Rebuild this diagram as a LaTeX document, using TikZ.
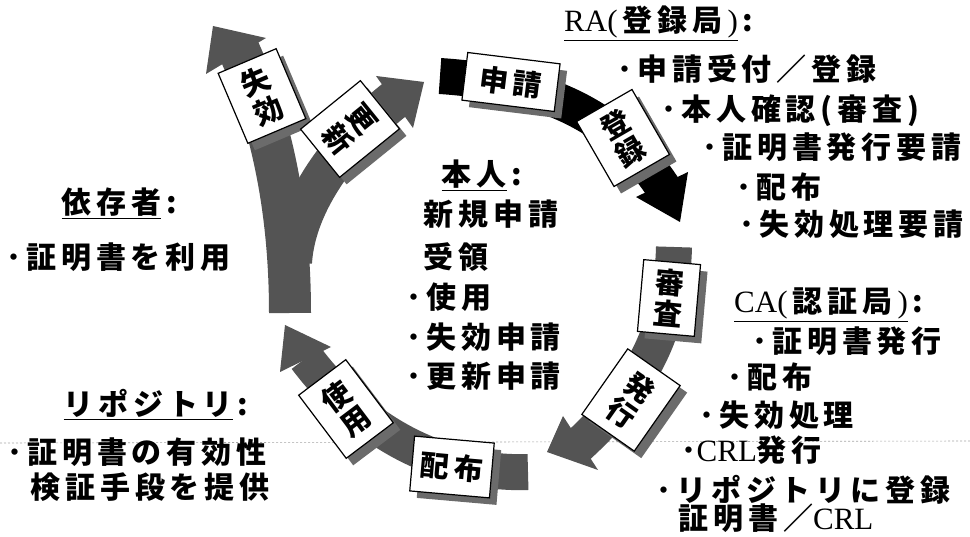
\documentclass[tikz,border=0pt]{standalone}
\usepackage{fontspec}
\setmainfont{Liberation Serif}
\newfontfamily\jp{Noto Sans CJK JP}[LetterSpace=16]
\newfontfamily\lat{Liberation Serif}
\newcommand\jpt{\jp\bfseries\fontsize{30}{34}\selectfont}
\newcommand\jpb{\jp\bfseries\fontsize{29}{31}\selectfont}
\newcommand\latt{\lat\mdseries\fontsize{31}{34}\selectfont}
\definecolor{arrowgray}{gray}{0.33}
\definecolor{shadowgray}{gray}{0.42}
\newcommand\labelbox[7]{%
  \node[sbox, rotate=#4, minimum width=#5pt, minimum height=#6pt] (#1s) at (#2+7,#3+7) {};
  \node[lbox, rotate=#4, minimum width=#5pt, minimum height=#6pt] (#1) at (#2,#3) {#7};
}
\begin{document}
\begin{tikzpicture}[x=1pt,y=-1pt,
  txt/.style={anchor=base west, inner sep=0pt, font=\jpt},
  lbox/.style={draw=black, line width=1.2pt, fill=white, inner sep=0pt, align=center, font=\jpb},
  sbox/.style={fill=shadowgray, inner sep=0pt},
  band/.style={draw=arrowgray, line width=36pt},
  headfill/.style={fill=arrowgray},
  faint/.style={draw=black!35, line width=0.6pt, dash pattern=on 2pt off 2pt}]
\useasboundingbox (0,0) rectangle (970,537);
\fill[white] (0,0) rectangle (970,537);

% faint scan line
\coordinate (dl) at (0,443);
\coordinate (dr) at (970,441);
\draw[faint] (dl) -- (dr);

% ---- arrow 1 (black): 申請 -> 登録
\coordinate (a1s) at (440,76);
\coordinate (a1e) at (664,189);
\draw[band, draw=black] (a1s) .. controls (530,82) and (612,108) .. (a1e);
\fill[black] (636,197) -- (680,222) -- (688,172) -- cycle;

% ---- arrow 2: 審査 -> 発行
\coordinate (a2s) at (674,247);
\coordinate (a2e) at (578,446);
\draw[band] (a2s) .. controls (672,320) and (650,380) .. (a2e);
\fill[headfill] (563,416) -- (547,452) -- (598,470) -- cycle;

% ---- arrow 3: 配布 -> 使用
\coordinate (a3s) at (528,472);
\coordinate (a3e) at (306,358);
\draw[band] (a3s) .. controls (440,475) and (360,430) .. (a3e);
\fill[headfill] (280,372) -- (285,325) -- (331,347) -- cycle;

% ---- arrow 4: fork 失効 / 更新
\coordinate (a4s) at (290,313);
\coordinate (a4l) at (237,46);
\coordinate (a4r0) at (292,262);
\coordinate (a4r) at (398,97);
\draw[band, line width=42pt] (a4s) .. controls (290,230) and (278,135) .. (a4l);
\draw[band, line width=40pt] (a4r0) .. controls (296,200) and (345,138) .. (a4r);
\fill[headfill] (206,74) -- (213,26) -- (266,38) -- cycle;
\fill[headfill] (376,76) -- (424,82) -- (413,128) -- cycle;

% ---- label boxes
\labelbox{bShinsei}{511}{82}{-7}{93}{48}{申請}
\labelbox{bTouroku}{623}{138}{30}{64}{75}{登\\録}
\labelbox{bShinsa}{669}{298}{-5}{57}{72}{審\\査}
\labelbox{bHakko}{631}{400}{-35}{64}{80}{発\\行}
\labelbox{bHaifu}{452}{467}{-5}{80}{55}{配布}
\labelbox{bShiyo}{346}{409}{37}{59}{79}{使\\用}
\labelbox{bShikko}{262}{96}{23}{63}{76}{失\\効}
\labelbox{bKoshin}{350}{129}{-51}{62}{77}{更\\新}

% ---- RA block
\node[txt] (raH) at (564,32) {\underline{{\latt RA(\,}登録局{\latt \,)}}\,:};
\node[txt] (ra1) at (617.5,81) {･申請受付／登録};
\node[txt] (ra2) at (661.5,121) {･本人確認(審査)};
\node[txt] (ra3) at (702.5,159) {･証明書発行要請};
\node[txt] (ra4) at (736.5,199) {･配布};
\node[txt] (ra5) at (739.5,236) {･失効処理要請};

% ---- CA block
\node[txt] (caH) at (734,313) {\underline{{\latt CA(\,}認証局{\latt \,)}}\,:};
\node[txt] (ca1) at (752.5,353) {･証明書発行};
\node[txt] (ca2) at (727.5,389) {･配布};
\node[txt] (ca3) at (699.5,427) {･失効処理};
\node[txt] (ca4) at (681.5,461) {･{\latt CRL}発行};
\node[txt] (ca5) at (656.5,501) {･リポジトリに登録};
\node[txt] (ca6) at (678.5,529) {証明書／{\latt CRL}};

% ---- 本人 block
\node[txt] (hH) at (441.5,186) {\underline{本人}\,:};
\node[txt] (h1) at (423.5,226) {新規申請};
\node[txt] (h2) at (423.5,269) {受領};
\node[txt] (h3) at (406.5,309) {･使用};
\node[txt] (h4) at (406.5,349) {･失効申請};
\node[txt] (h5) at (406.5,388) {･更新申請};

% ---- 依存者 block
\node[txt] (iH) at (61.5,214) {\underline{依存者}\,:};
\node[txt] (i1) at (6.5,269) {･証明書を利用};

% ---- リポジトリ block
\node[txt] (rH) at (63.5,416) {\underline{リポジトリ}\,:};
\node[txt] (r1) at (7.5,464) {･証明書の有効性};
\node[txt] (r2) at (30.5,498) {検証手段を提供};
\end{tikzpicture}
\end{document}
